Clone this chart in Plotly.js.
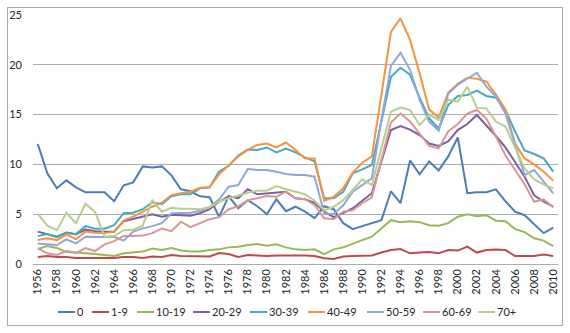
<!DOCTYPE html>
<html>
<head>
<meta charset="utf-8">
<script src="https://cdn.plot.ly/plotly-3.0.1.min.js"></script>
<style>
html,body{margin:0;padding:0;background:#fff;}
#wrap{position:relative;width:570px;height:333px;}
#chart{position:absolute;left:0;top:0;width:570px;height:333px;}
#frame{position:absolute;left:7px;top:7px;width:556px;height:319px;border:1px solid #ABABAB;box-sizing:border-box;pointer-events:none;}
</style>
</head>
<body>
<div id="wrap"><div id="chart"></div><div id="frame"></div></div>
<script>
const years = [];
for (let y = 1956; y <= 2010; y++) years.push(y);

const seriesNames = ["0","1-9","10-19","20-29","30-39","40-49","50-59","60-69","70+"];
const seriesColors = ["#4A7EBB","#BE4B48","#98B954","#7D60A0","#46AAC5","#F69240","#8EA8D8","#D99694","#B7CF8C"];

const age0 = [12.05,9.1,7.6,8.4,7.7,7.2,7.2,7.2,6.3,7.9,
  8.2,9.8,9.7,9.8,8.9,7.5,7.3,6.8,6.7,4.75,
  6.8,5.6,6.4,5.8,5.0,6.5,5.3,5.75,5.25,4.6,
  5.8,5.5,4.1,3.5,3.8,4.1,4.4,7.3,6.1,10.4,
  9.0,10.3,9.4,10.8,12.7,7.1,7.2,7.2,7.5,6.3,
  5.25,4.9,4.0,3.1,3.65];
const age1_9 = [0.7,0.8,0.7,0.7,0.6,0.6,0.6,0.6,0.6,0.7,
  0.7,0.6,0.75,0.7,0.9,0.8,0.8,0.75,0.75,1.1,
  1.0,0.7,0.9,0.85,0.8,0.85,0.85,0.9,0.85,0.8,
  0.57,0.5,0.75,0.8,0.8,0.85,1.15,1.4,1.5,1.07,
  1.15,1.2,1.07,1.4,1.35,1.75,1.15,1.4,1.45,1.4,
  0.8,0.8,0.8,0.95,0.8];
const age10_19 = [1.5,1.8,1.6,1.2,1.15,1.1,1.0,0.9,0.8,1.07,
  1.15,1.25,1.55,1.4,1.6,1.35,1.25,1.25,1.4,1.47,
  1.67,1.73,1.9,2.0,1.84,1.97,1.67,1.47,1.4,1.47,
  1.0,1.47,1.67,2.07,2.4,2.74,3.58,4.4,4.2,4.3,
  4.2,3.9,3.85,4.1,4.75,5.0,4.8,4.9,4.35,4.3,
  3.5,3.2,2.58,2.35,1.8];
const age20_29 = [3.25,3.0,2.75,3.15,3.0,3.45,3.3,3.25,3.25,4.3,
  4.55,4.75,5.0,4.75,4.95,4.9,4.85,5.1,5.5,6.25,
  6.8,6.6,7.5,7.0,7.1,7.15,7.25,6.6,6.5,6.15,
  5.25,4.7,5.1,5.6,6.4,7.1,10.3,13.45,13.85,13.5,
  12.95,12.1,11.85,12.3,13.45,14.05,14.96,13.95,12.85,11.7,
  10.3,8.77,6.9,6.25,5.75];
const age30_39 = [2.8,3.0,2.7,3.1,3.0,3.8,3.55,3.55,3.9,5.1,
  5.15,5.5,6.2,6.0,6.8,7.0,7.0,7.6,7.7,9.3,
  9.85,10.9,11.5,11.45,11.7,11.2,11.6,11.2,10.7,10.3,
  6.6,6.6,7.25,9.1,9.5,9.95,14.3,18.8,19.7,19.0,
  16.7,14.65,13.6,15.95,16.87,16.97,17.4,16.87,16.7,15.46,
  13.3,11.4,11.04,10.6,9.27];
const age40_49 = [2.4,2.58,2.4,2.98,2.48,3.25,3.15,3.1,3.25,4.35,
  4.75,5.25,5.75,6.15,6.9,7.1,7.26,7.66,7.7,9.0,
  9.95,10.8,11.45,11.95,12.1,11.7,12.2,11.45,10.6,10.6,
  6.35,6.75,7.6,9.17,10.17,10.8,17.0,23.3,24.67,22.5,
  19.15,15.5,14.7,17.2,18.1,18.7,18.6,18.3,17.0,15.5,
  12.1,10.6,10.0,9.27,8.37];
const age50_59 = [2.07,2.0,1.9,2.48,2.07,2.74,2.7,2.7,2.74,2.35,
  3.25,3.58,3.8,4.1,5.1,5.15,5.15,5.35,5.7,6.5,
  7.76,7.93,9.54,9.44,9.44,9.27,9.04,8.94,8.94,8.77,
  5.1,5.0,5.9,7.26,7.93,8.6,14.5,19.9,21.2,19.5,
  16.5,14.3,13.4,17.1,18.0,18.6,19.2,17.8,16.8,15.1,
  11.95,8.94,9.44,8.27,7.1];
const age60_69 = [1.57,1.07,0.9,1.3,1.1,1.6,1.3,1.97,2.3,2.8,
  2.8,2.85,3.1,3.55,3.3,4.25,3.7,4.1,4.5,4.7,
  5.5,5.8,6.4,6.6,6.83,6.75,7.26,6.6,6.5,5.9,
  4.6,4.5,5.25,5.4,6.1,6.7,10.5,14.2,15.1,14.3,
  13.1,11.85,11.6,13.3,14.05,15.1,15.46,14.6,12.8,10.9,
  9.44,8.0,6.25,6.5,5.7];
const age70p = [5.05,3.85,3.4,5.15,4.1,6.05,5.2,2.74,2.8,3.4,
  3.45,3.85,6.45,5.25,5.65,5.55,5.55,5.5,5.7,6.25,
  6.6,6.9,7.16,7.36,7.36,7.83,7.5,7.26,7.0,6.35,
  5.4,5.75,6.4,7.43,8.5,7.93,11.6,15.3,15.7,15.46,
  13.95,15.0,14.46,16.5,16.3,17.8,15.7,15.6,14.3,13.8,
  11.7,9.6,8.5,8.0,7.6];

const allSeries = [age0, age1_9, age10_19, age20_29, age30_39, age40_49, age50_59, age60_69, age70p];

// legend entry positions (layout, page pixels): start of each sample line
const legendX = [58, 92, 137, 193, 250, 308, 367, 423, 478];
const legendY = 312;

const traces = allSeries.map((vals, i) => ({
  x: years,
  y: vals,
  name: seriesNames[i],
  type: 'scatter',
  mode: 'lines',
  line: {color: seriesColors[i], width: 2},
  hoverinfo: 'skip'
}));

const FONT = 'Lato, "Open Sans", "Liberation Sans", sans-serif';

const layout = {
  width: 570,
  height: 333,
  margin: {l: 33, r: 12, t: 15, b: 69, autoexpand: false},
  paper_bgcolor: 'rgba(0,0,0,0)',
  plot_bgcolor: 'rgba(0,0,0,0)',
  font: {family: FONT, size: 11, color: '#262626'},
  showlegend: true,
  legend: {
    orientation: 'h',
    x: 0.48, xanchor: 'center',
    y: -0.15, yanchor: 'top',
    font: {family: FONT, size: 11, color: '#262626'},
    itemwidth: 30,
    bgcolor: 'rgba(0,0,0,0)'
  },
  xaxis: {
    type: 'linear',
    range: [1955.5, 2010.5],
    tick0: 1956,
    dtick: 2,
    tickangle: -90,
    showgrid: false,
    zeroline: false,
    showline: false,
    ticks: '',
    tickfont: {family: FONT, size: 11, color: '#262626'},
    ticklabelstandoff: 2,
    automargin: false,
    fixedrange: true
  },
  yaxis: {
    range: [0, 25],
    tick0: 0,
    dtick: 5,
    showgrid: true,
    gridcolor: '#ADADAD',
    gridwidth: 1,
    zeroline: true,
    zerolinecolor: '#ADADAD',
    zerolinewidth: 1,
    showline: false,
    ticks: '',
    tickfont: {family: FONT, size: 11, color: '#262626'},
    ticklabelstandoff: 10,
    automargin: false,
    fixedrange: true
  }
};

function compactLegend(gd) {
  const leg = gd.querySelector('g.legend');
  if (!leg) return;
  const sb = leg.querySelector('.scrollbox');
  if (sb) sb.removeAttribute('clip-path');
  const items = leg.querySelectorAll('g.traces');
  if (!items.length) return;
  const parent = items[0].parentNode;
  const ctm = parent.getCTM();
  items.forEach((el, i) => {
    if (i >= legendX.length) return;
    el.setAttribute('transform', 'translate(' + (legendX[i] - ctm.e) + ',' + (legendY - ctm.f) + ')');
    el.querySelectorAll('.legendlines path').forEach(p => p.setAttribute('d', 'M0,0h17'));
    const t = el.querySelector('text.legendtext');
    if (t) t.setAttribute('x', 19);
  });
}

Plotly.newPlot('chart', traces, layout, {displayModeBar: false, staticPlot: true})
  .then(compactLegend);
</script>
</body>
</html>
